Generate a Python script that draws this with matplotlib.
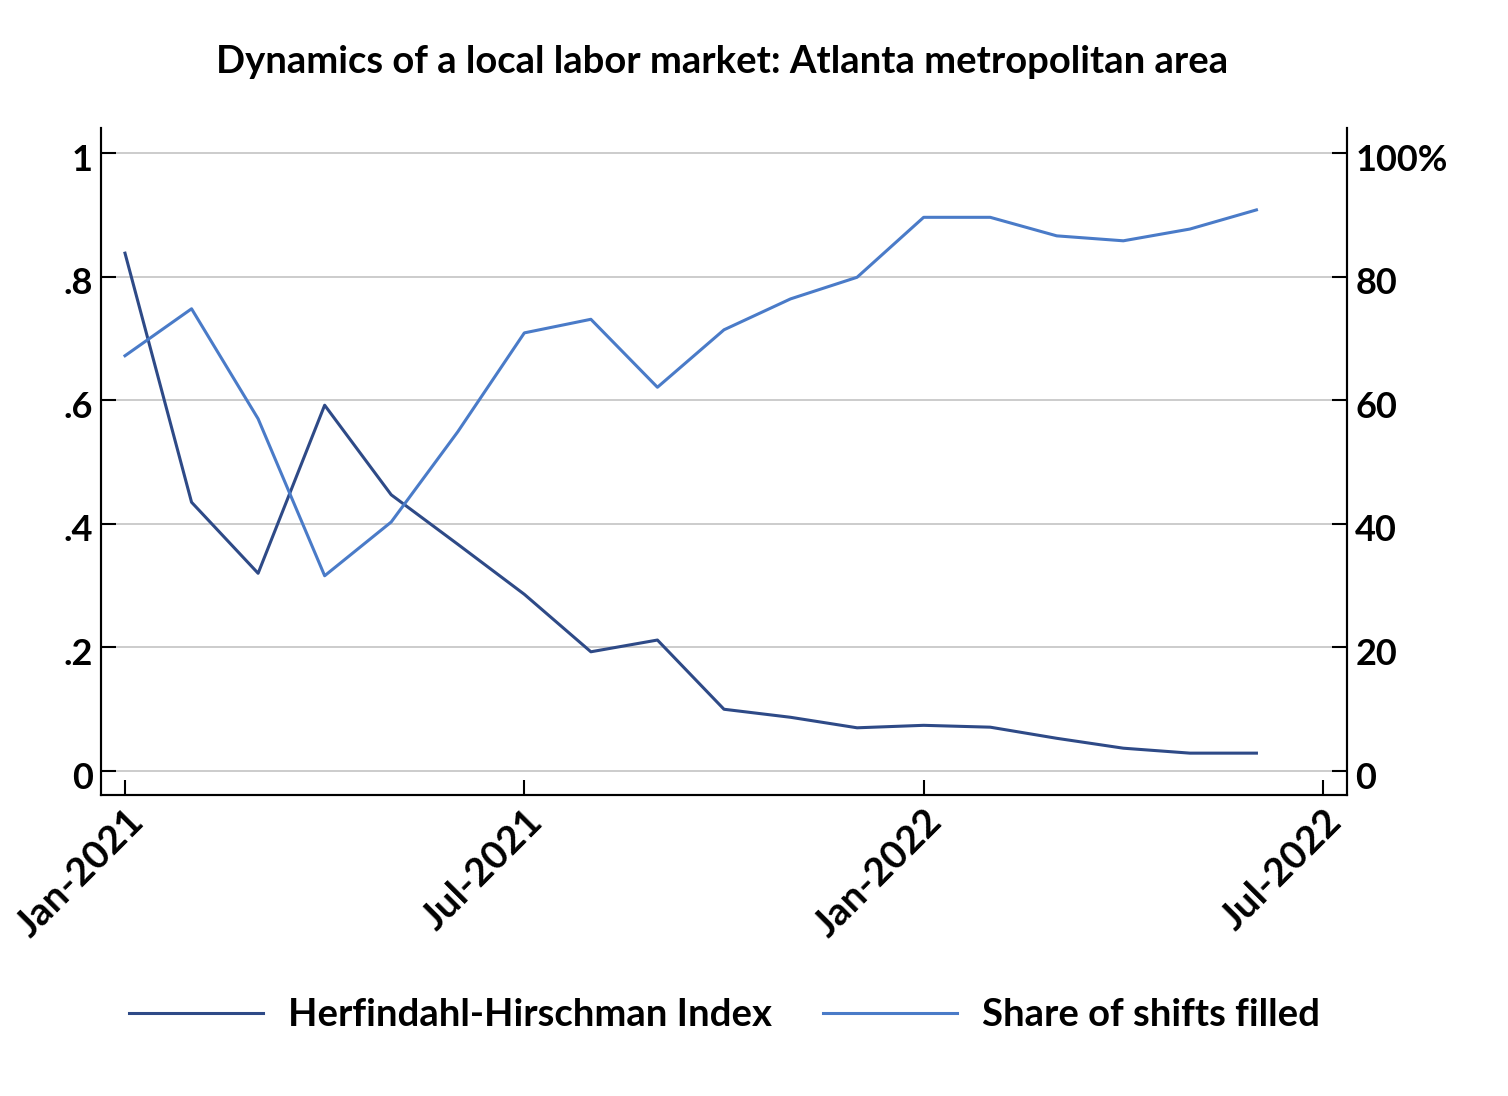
import matplotlib
matplotlib.use("Agg")
import matplotlib.pyplot as plt
import matplotlib.transforms as mtransforms

# =============================================================================
# DATA
# =============================================================================

months = list(range(18))  # Jan-2021 .. Jun-2022, monthly index
hhi = [0.838, 0.435, 0.320, 0.592, 0.447, 0.367, 0.286, 0.193, 0.212,
       0.100, 0.087, 0.070, 0.074, 0.071, 0.053, 0.037, 0.029, 0.029]
share_filled = [67.2, 74.8, 57.0, 31.6, 40.3, 54.9, 70.9, 73.1, 62.1,
                71.4, 76.4, 79.9, 89.6, 89.6, 86.6, 85.8, 87.7, 90.8]

xtick_pos = [0, 6, 12, 18]
xtick_labels = ["Jan-2021", "Jul-2021", "Jan-2022", "Jul-2022"]
left_ticks = [0, 0.2, 0.4, 0.6, 0.8, 1.0]
left_labels = ["0", ".2", ".4", ".6", ".8", "1"]
right_ticks = [0, 20, 40, 60, 80, 100]
right_labels = ["0", "20", "40", "60", "80", "100%"]

DARK = "#2e4a87"
LIGHT = "#4a7bc8"

# =============================================================================
# PLOT
# =============================================================================

plt.rcParams["font.family"] = ["Lato", "DejaVu Sans"]
plt.rcParams["font.weight"] = "bold"

fig = plt.figure(figsize=(15.08, 10.96), dpi=100)
ax = fig.add_axes([0.067, 0.2746, 0.8262, 0.6086])
ax2 = ax.twinx()

ylo, yhi = -0.0388, 1.0405
ax.set_ylim(ylo, yhi)
ax2.set_ylim(ylo * 100, yhi * 100)
ax.set_xlim(-0.36, 18.36)

for y in left_ticks:
    ax.axhline(y, color="#c4c4c4", lw=1.2, zorder=0)

l1, = ax.plot(months, hhi, color=DARK, lw=2.2, label="Herfindahl-Hirschman Index")
l2, = ax2.plot(months, share_filled, color=LIGHT, lw=2.2, label="Share of shifts filled")

ax.set_xticks(xtick_pos)
ax.set_xticklabels(xtick_labels, rotation=45, ha="right", va="top",
                   rotation_mode="anchor")
ax.set_yticks(left_ticks)
ax.set_yticklabels(left_labels)
ax2.set_yticks(right_ticks)
ax2.set_yticklabels(right_labels)

for a in (ax, ax2):
    a.spines["top"].set_visible(False)
    for s in ("left", "right", "bottom"):
        a.spines[s].set_linewidth(1.5)
    a.tick_params(direction="in", length=11, width=1.5, labelsize=26, pad=6)
ax.tick_params(axis="x", labelsize=28, pad=6)

# nudge the y labels a little below their gridlines
shift = mtransforms.ScaledTranslation(0, -4 / 100, fig.dpi_scale_trans)
for lab in ax.get_yticklabels() + ax2.get_yticklabels():
    lab.set_transform(lab.get_transform() + shift)

fig.suptitle("Dynamics of a local labor market: Atlanta metropolitan area",
             x=0.479, y=1 - 62 / 1096, fontsize=27.5, fontweight="bold",
             va="center")

fig.legend(handles=[l1, l2], loc="center", bbox_to_anchor=(0.4805, 0.0735),
           ncol=2, frameon=False, fontsize=27.5, handlelength=3.5,
           handletextpad=0.65, columnspacing=1.35)

fig.savefig("out.png", dpi=100)
